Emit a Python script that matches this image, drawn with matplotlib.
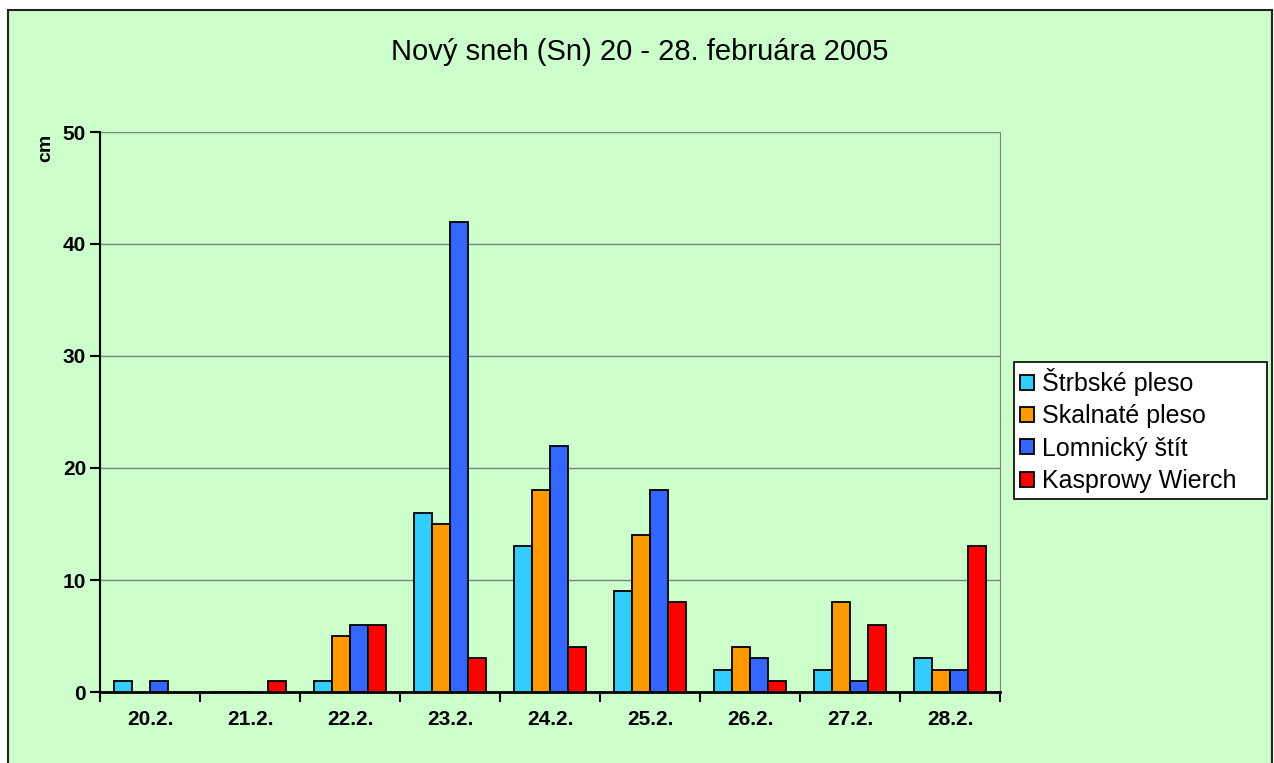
import numpy as np
import matplotlib
matplotlib.use('Agg')
import matplotlib.pyplot as plt
from matplotlib.patches import Rectangle

# data (cm of new snow)
days = ['20.2.', '21.2.', '22.2.', '23.2.', '24.2.', '25.2.', '26.2.', '27.2.', '28.2.']
stations = ['Štrbské pleso', 'Skalnaté pleso', 'Lomnický štít', 'Kasprowy Wierch']
strbske = [1, 0, 1, 16, 13, 9, 2, 2, 3]
skalnate = [np.nan, 0, 5, 15, 18, 14, 4, 8, 2]
lomnicky = [1, np.nan, 6, 42, 22, 18, 3, 1, 2]
kasprowy = [np.nan, 1, 6, 3, 4, 8, 1, 6, 13]
colors = ['#33CCFF', '#FF9900', '#3366FF', '#FF0000']

plt.rcParams['font.family'] = ['Liberation Sans', 'DejaVu Sans']

fig = plt.figure(figsize=(12.74, 7.63), dpi=100)
fig.patch.set_facecolor('white')
W, H = 1274., 763.
# outer chart frame
fig.patches.append(Rectangle((8/W, -0.01), 1264/W, 1 - 10/H + 0.01, transform=fig.transFigure,
                             facecolor='#CCFFCC', edgecolor='#222222', lw=1.5, zorder=-5))

ax = fig.add_axes([100/W, 1 - 692/H, 900/W, 560/H])
ax.set_facecolor('#CCFFCC')

x = np.arange(len(days))
bw = 0.18
series = [strbske, skalnate, lomnicky, kasprowy]
for i, (vals, name, c) in enumerate(zip(series, stations, colors)):
    ax.bar(x + (i - 1.5) * bw, vals, bw, color=c, edgecolor='black', linewidth=1.3,
           label=name, zorder=3)

ax.set_xlim(-0.5, len(days) - 0.5)
ax.set_ylim(0, 50)
ax.set_yticks(np.arange(0, 51, 10))
ax.yaxis.grid(True, color='#808080', linewidth=1, zorder=0)
ax.set_axisbelow(True)

# category separators as major ticks, labels on minor ticks
ax.set_xticks(np.arange(-0.5, len(days), 1))
ax.set_xticklabels([])
ax.set_xticks(x, minor=True)
ax.set_xticklabels(days, minor=True, fontweight='bold', fontsize=15)
ax.tick_params(axis='x', which='major', length=7, width=1.5, direction='out')
ax.tick_params(axis='x', which='minor', length=0, pad=13)
ax.tick_params(axis='y', length=7, width=1.5, direction='out', pad=3)
for lab in ax.get_yticklabels():
    lab.set_fontweight('bold')
    lab.set_fontsize(15)

for s in ['left', 'bottom']:
    ax.spines[s].set_linewidth(1.5)
    ax.spines[s].set_color('black')
ax.spines['bottom'].set_linewidth(2)
ax.spines['top'].set_visible(False)
ax.spines['right'].set_color('#808080')

ax.set_ylabel('cm', fontweight='bold', fontsize=14, labelpad=0)
ax.yaxis.set_label_coords(-46/900, 1 - 16/560)

fig.text(640/W, 1 - 52/H, 'Nový sneh (Sn) 20 - 28. februára 2005', ha='center', va='center',
         fontsize=21)

leg = ax.legend(loc='upper left', bbox_to_anchor=(1014/W, 1 - 499/H, 253/W, 137/H),
                bbox_transform=fig.transFigure, mode='expand', fontsize=18, frameon=True,
                fancybox=False, framealpha=1, handlelength=0.55, handleheight=0.55,
                handletextpad=0.3, labelspacing=0.33, borderpad=0.25, borderaxespad=0)
leg.get_frame().set_edgecolor('black')
leg.get_frame().set_linewidth(1.2)
leg.get_frame().set_facecolor('white')

fig.savefig('out.png', dpi=100)
